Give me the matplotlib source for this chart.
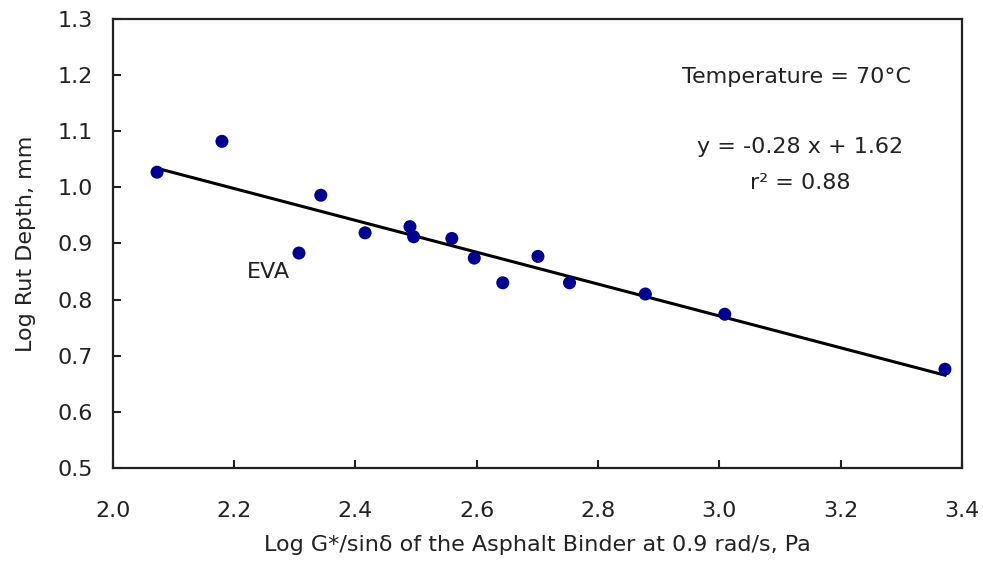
import matplotlib
matplotlib.use("Agg")
import matplotlib.pyplot as plt
import numpy as np

plt.rcParams['font.family'] = ['DejaVu Sans']

# Data
log_g_sin = [2.073, 2.180, 2.307, 2.343, 2.416, 2.490, 2.496, 2.559, 2.596,
             2.643, 2.701, 2.753, 2.878, 3.009, 3.372]
log_rut = [1.027, 1.082, 0.883, 0.986, 0.919, 0.930, 0.912, 0.909, 0.874,
           0.830, 0.877, 0.830, 0.810, 0.774, 0.676]
x_ticks = [2.0, 2.2, 2.4, 2.6, 2.8, 3.0, 3.2, 3.4]
y_ticks = [0.5, 0.6, 0.7, 0.8, 0.9, 1.0, 1.1, 1.2, 1.3]

x = np.array(log_g_sin)
y = np.array(log_rut)
slope, intercept = np.polyfit(x, y, 1)

fig = plt.figure(figsize=(9.83, 5.67), dpi=100)
ax = fig.add_axes([0.1147, 0.1746, 0.9786 - 0.1147, 0.9665 - 0.1746])

xl = np.array([x.min(), x.max()])
ax.plot(xl, slope * xl + intercept, color='black', lw=2.2, zorder=2)
ax.scatter(x, y, s=88, color='#000090', zorder=3, edgecolors='none')

ax.set_xlim(2.0, 3.4)
ax.set_ylim(0.5, 1.3)
ax.set_xticks(x_ticks)
ax.set_yticks(y_ticks)
ax.set_xticklabels([f"{v:.1f}" for v in x_ticks])
ax.set_yticklabels([f"{v:.1f}" for v in y_ticks])
ax.tick_params(direction='in', length=6, width=1.5, labelsize=16, color='#222222',
               labelcolor='#222222', top=False, right=False)
ax.tick_params(axis='x', pad=24)
ax.tick_params(axis='y', pad=14)
for s in ax.spines.values():
    s.set_linewidth(1.6)
    s.set_color('#222222')

ax.set_xlabel("Log G*/sin\u03b4 of the Asphalt Binder at 0.9 rad/s, Pa", fontsize=16,
              labelpad=10, color='#222222')
ax.set_ylabel("Log Rut Depth, mm", fontsize=16, labelpad=16, color='#222222')

ax.text(3.128, 1.197, "Temperature = 70\u00b0C", fontsize=16, ha='center', va='center', color='#222222')
ax.text(3.133, 1.072, "y = -0.28 x + 1.62", fontsize=16, ha='center', va='center', color='#222222')
ax.text(3.133, 1.008, "r\u00b2 = 0.88", fontsize=16, ha='center', va='center', color='#222222')
ax.text(2.256, 0.849, "EVA", fontsize=16, ha='center', va='center', color='#222222')

fig.savefig("out.png", dpi=100)
